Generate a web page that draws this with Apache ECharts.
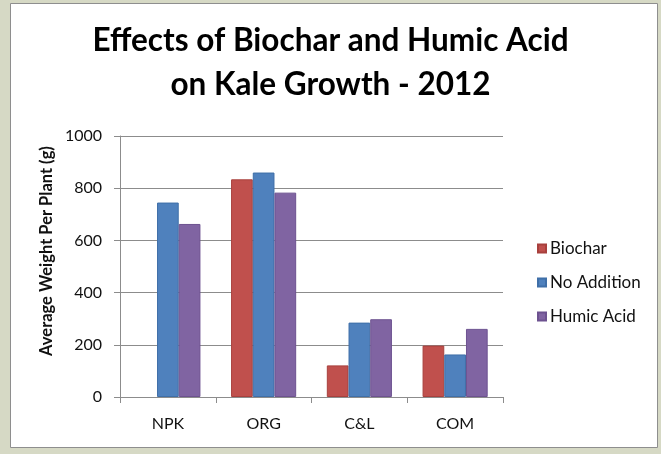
<!DOCTYPE html>
<html>
<head>
<meta charset="utf-8">
<script src="https://cdn.jsdelivr.net/npm/echarts@6/dist/echarts.min.js"></script>
<style>
  html, body { margin: 0; padding: 0; background: #d6d9c5; }
  #chart { width: 661px; height: 454px; }
</style>
</head>
<body>
<div id="chart"></div>
<script>
const categories = ['NPK', 'ORG', 'C&L', 'COM']
const biochar = [null, 834, 121, 197]
const noAddition = [745, 860, 285, 163]
const humicAcid = [663, 783, 298, 261]
const yTicks = { min: 0, max: 1000, interval: 200 }

const chart = echarts.init(document.getElementById('chart'))
const font = 'Lato, "Open Sans", sans-serif'

const barSeries = (name, data, color, edge) => ({
  name,
  type: 'bar',
  data,
  barGap: 0,
  barCategoryGap: '32%',
  itemStyle: { color, borderColor: edge, borderWidth: 1 },
})

const option = {
  animation: false,
  backgroundColor: '#d6d9c5',
  graphic: [
    {
      type: 'rect',
      z: -10,
      shape: { x: 10.5, y: 3.5, width: 647, height: 444 },
      style: { fill: '#ffffff', stroke: '#8e8e8e', lineWidth: 1 },
    },
    {
      type: 'text',
      x: 47,
      y: 251,
      rotation: Math.PI / 2,
      style: {
        text: 'Average Weight Per Plant (g)',
        font: 'bold 16.5px ' + font,
        fill: '#111',
        align: 'center',
        verticalAlign: 'middle',
      },
    },
  ],
  title: {
    text: 'Effects of Biochar and Humic Acid\non Kale Growth - 2012',
    left: 'center',
    top: 19,
    padding: [0, 0, 0, 9],
    textStyle: {
      fontFamily: font,
      fontWeight: 'bold',
      fontSize: 31.5,
      lineHeight: 44,
      color: '#000',
    },
  },
  legend: {
    orient: 'vertical',
    left: 532,
    top: 235,
    itemWidth: 8,
    itemHeight: 8,
    itemGap: 17,
    icon: 'rect',
    textStyle: { fontFamily: font, fontSize: 17, color: '#111', padding: [0, 0, 0, -1] },
    data: ['Biochar', 'No Addition', 'Humic Acid'],
  },
  grid: { left: 120, right: 158, top: 136, bottom: 57 },
  xAxis: {
    type: 'category',
    data: categories,
    axisLine: { lineStyle: { color: '#8c8c8c' } },
    axisTick: { show: true, length: 6, lineStyle: { color: '#8c8c8c' } },
    axisLabel: { margin: 19, fontFamily: font, fontSize: 16, color: '#111' },
  },
  yAxis: {
    type: 'value',
    min: yTicks.min,
    max: yTicks.max,
    interval: yTicks.interval,
    axisLine: { show: true, lineStyle: { color: '#8c8c8c' } },
    axisTick: { show: true, length: 6, lineStyle: { color: '#8c8c8c' } },
    axisLabel: { margin: 18, fontFamily: font, fontSize: 16, color: '#111', formatter: v => String(v) },
    splitLine: { lineStyle: { color: '#8c8c8c' } },
  },
  series: [
    barSeries('Biochar', biochar, '#c0504d', '#a8403d'),
    barSeries('No Addition', noAddition, '#4f81bd', '#3f6fa8'),
    barSeries('Humic Acid', humicAcid, '#8064a2', '#6d5290'),
  ],
}

option && chart.setOption(option)
</script>
</body>
</html>
